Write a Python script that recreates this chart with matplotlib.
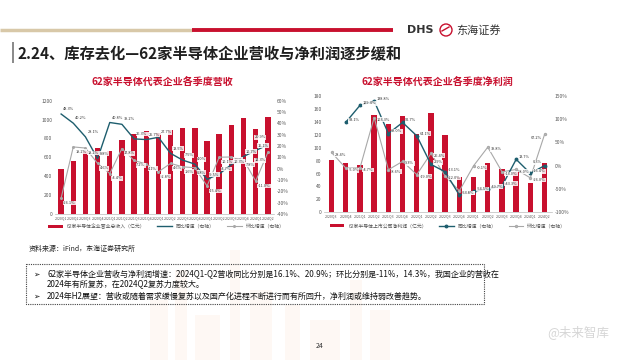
import matplotlib
matplotlib.use('Agg')
import matplotlib.pyplot as plt
import matplotlib.patches as mpatches
from matplotlib.ticker import FuncFormatter, MultipleLocator
import numpy as np

plt.rcParams['font.family'] = ['Noto Sans CJK SC', 'DejaVu Sans']
plt.rcParams['axes.unicode_minus'] = False

# ---- data: left chart (revenue) ----
rev_quarters = ['2020Q1', '2020Q2', '2020Q3', '2020Q4', '2021Q1', '2021Q2', '2021Q3', '2021Q4',
                '2022Q1', '2022Q2', '2022Q3', '2022Q4', '2023Q1', '2023Q2', '2023Q3', '2023Q4',
                '2024Q1', '2024Q2']
revenue = [475, 566, 669, 700, 669, 788, 845, 880, 855, 894, 908, 915, 774, 852, 940, 1013, 897, 1028]
rev_yoy = [48.3, 40.2, 28.1, 8.8, 40.8, 39.2, 26.3, 25.7, 27.7, 13.5, 7.5, 4.0, -9.5, -4.7, 3.5, 10.7, 16.1, 20.9]
rev_qoq = [-26.1, 19.2, 18.2, 4.6, -4.4, 17.8, 7.2, 4.1, -2.8, 4.6, 1.6, 0.8, -15.4, 10.1, 10.3, 7.8, -11.0, 14.3]

# ---- data: right chart (net profit) ----
np_quarters = ['2020Q3', '2020Q4', '2021Q1', '2021Q2', '2021Q3', '2021Q4', '2022Q1', '2022Q2',
               '2022Q3', '2022Q4', '2023Q1', '2023Q2', '2023Q3', '2023Q4', '2024Q1', '2024Q2']
profit = [80.7, 77.0, 73.5, 150.0, 137.0, 149.0, 121.0, 153.0, 119.0, 55.0, 55.0, 76.9, 67.0, 62.0, 46.0, 76.9]
profit_yoy = [np.nan, 93.1, 129.4, 138.8, 69.0, 92.7, 64.1, 2.9, -13.1, -63.1, -54.5, -49.7, -43.3, 13.7, -16.4, 0.3]
profit_qoq = [28.4, -5.0, -4.7, 103.3, -8.6, 9.3, -19.0, 26.4, -22.0, -53.8, -0.1, 39.8, -13.0, -8.0, -26.0, 67.2]

RED = '#C8102E'
TEAL = '#1E5E6E'
GRAY = '#A8A8A8'
TXT = '#555555'

fig = plt.figure(figsize=(6.4, 3.6), dpi=100)

# background / decoration layer in pixel coordinates
bg = fig.add_axes([0, 0, 1, 1], zorder=0)
bg.set_xlim(0, 640)
bg.set_ylim(360, 0)
bg.axis('off')

# faint city silhouette at the bottom
for bx, bw, bh in [(150, 18, 60), (175, 12, 90), (195, 25, 45), (230, 10, 110), (250, 22, 70),
                   (285, 15, 55), (310, 30, 40), (350, 12, 80), (370, 20, 50)]:
    bg.add_patch(mpatches.Rectangle((bx, 360 - bh), bw, bh, color='#FEF8F4', lw=0, zorder=0))

# top decorative line
bg.plot([0, 192], [30, 30], color='#D8C8A8', lw=2.5, solid_capstyle='butt')
bg.plot([192, 393], [30, 30], color=RED, lw=2.8, solid_capstyle='butt')

# logo
bg.text(407, 30, 'DHS', fontsize=8, fontweight='bold', color='#333333', va='center', ha='left',
        family=['DejaVu Sans'])
bg.add_patch(mpatches.Circle((446, 30), 6, fill=False, ec=RED, lw=1.0))
bg.plot([442, 449], [31, 27], color=RED, lw=1.0)
bg.text(456, 30, '东海证券', fontsize=8, color='#333333', va='center', ha='left')

# title
bg.add_patch(mpatches.Rectangle((12, 42), 2.2, 21, color='#8C8C8C', lw=0))
bg.text(18, 53, '2.24、库存去化—62家半导体企业营收与净利润逐步缓和', fontsize=11, fontweight='bold',
        color='#1F1F1F', va='center', ha='left')

# sub titles
bg.text(162, 82, '62家半导体代表企业各季度营收', fontsize=7.2, fontweight='bold', color=RED,
        ha='center', va='center')
bg.text(437, 82, '62家半导体代表企业各季度净利润', fontsize=7.2, fontweight='bold', color=RED,
        ha='center', va='center')

# source and note box
bg.text(29, 249, '资料来源：iFind，东海证券研究所', fontsize=5, color='#222222', va='center')
bg.add_patch(mpatches.Rectangle((26, 264), 458, 40, fill=False, ec='#444444', lw=0.8, ls=(0, (1, 1))))
bullet_lines = [
    (274, '62家半导体企业营收与净利润增速：2024Q1-Q2营收同比分别是16.1%、20.9%；环比分别是-11%，14.3%，我国企业的营收在'),
    (283.5, '2024年有所复苏，在2024Q2复苏力度较大。'),
    (296, '2024年H2展望：营收或随着需求缓慢复苏以及国产化进程不断进行而有所回升，净利润或维持弱改善趋势。'),
]
for y, s in bullet_lines:
    bg.text(47, y, s, fontsize=5.8, color='#111111', va='center')
for y in (274, 296):
    bg.text(33, y, '➢', fontsize=5.5, color='#111111', va='center', family=['DejaVu Sans'])

bg.text(320, 346, '24', fontsize=5, color='#333333', ha='center', va='center')
bg.text(578, 332, '@未来智库', fontsize=9, color='#D6D6D6', ha='center', va='center')


def style_axes(ax, ax2, nlabels):
    for s in ['top', 'left', 'right']:
        ax.spines[s].set_visible(False)
        ax2.spines[s].set_visible(False)
    ax2.spines['bottom'].set_visible(False)
    ax.spines['bottom'].set_color('#BBBBBB')
    ax.spines['bottom'].set_linewidth(0.5)
    ax.tick_params(axis='y', labelsize=3.5, colors=TXT, length=0, pad=2)
    ax2.tick_params(axis='y', labelsize=3.5, colors=TXT, length=0, pad=2)
    ax.tick_params(axis='x', labelsize=2.6, colors=TXT, length=0, pad=1.5)
    ax.set_xlim(-0.5, nlabels - 0.5)
    ax.patch.set_alpha(0)
    ax2.yaxis.set_major_formatter(FuncFormatter(lambda v, p: f'{v:.0f}%'))


def add_labels(ax2, xs, vals, dx, dy, color):
    n = len(vals)
    for i, (x, v) in enumerate(zip(xs, vals)):
        if np.isnan(v):
            continue
        last = i == n - 1
        ax2.annotate(f'{v:.1f}%', (x, v), xytext=(-dx if last else dx, dy * 1.6 if last else dy),
                     textcoords='offset points', fontsize=2.8, color=color,
                     ha='right' if last else 'left', va='center',
                     bbox=dict(boxstyle='square,pad=0.1', fc='white', ec='none', alpha=0.85),
                     zorder=6)


# ---- left chart ----
ax1 = fig.add_axes([0.086, 0.406, 0.342, 0.314], zorder=2)
x1 = np.arange(len(rev_quarters))
ax1.bar(x1, revenue, width=0.45, color=RED, label='62家半导体企业营业总收入（亿元）', zorder=2)
ax1.set_ylim(0, 1200)
ax1.yaxis.set_major_locator(MultipleLocator(200))
ax1.set_xticks(x1)
ax1.set_xticklabels(rev_quarters)
ax1b = ax1.twinx()
ax1b.plot(x1, rev_yoy, color=TEAL, lw=1.0, label='同比增速（右轴）', zorder=4)
ax1b.plot(x1, rev_qoq, color=GRAY, lw=0.8, marker='o', ms=1.2, label='环比增速（右轴）', zorder=3)
ax1b.set_ylim(-40, 60)
ax1b.yaxis.set_major_locator(MultipleLocator(10))
style_axes(ax1, ax1b, len(rev_quarters))
add_labels(ax1b, x1, rev_yoy, 1.5, 3.5, '#333333')
add_labels(ax1b, x1, rev_qoq, 1.5, -3.5, '#333333')
h1, l1 = ax1.get_legend_handles_labels()
h2, l2 = ax1b.get_legend_handles_labels()
fig.legend(h1 + h2, l1 + l2, loc='center', bbox_to_anchor=(0.26, 0.372), ncol=3, frameon=False,
           fontsize=3.5, handlelength=3, handleheight=0.5, columnspacing=2.5, labelcolor=TXT)

# ---- right chart ----
ax2 = fig.add_axes([0.507, 0.410, 0.355, 0.324], zorder=2)
x2 = np.arange(len(np_quarters))
ax2.bar(x2, profit, width=0.38, color=RED, label='62家半导体上市公司净利润（亿元）', zorder=2)
ax2.set_ylim(0, 180)
ax2.yaxis.set_major_locator(MultipleLocator(20))
ax2.set_xticks(x2)
ax2.set_xticklabels(np_quarters)
ax2b = ax2.twinx()
ax2b.plot(x2, profit_yoy, color=TEAL, lw=1.0, marker='o', ms=1.8, label='同比增速（右轴）', zorder=4)
ax2b.plot(x2, profit_qoq, color=GRAY, lw=0.8, marker='o', ms=1.4, mfc='white', label='环比增速（右轴）', zorder=3)
ax2b.set_ylim(-100, 150)
ax2b.yaxis.set_major_locator(MultipleLocator(50))
style_axes(ax2, ax2b, len(np_quarters))
add_labels(ax2b, x2, profit_yoy, 2, 1.5, '#333333')
add_labels(ax2b, x2, profit_qoq, 2, -1.5, '#333333')
h1, l1 = ax2.get_legend_handles_labels()
h2, l2 = ax2b.get_legend_handles_labels()
fig.legend(h1 + h2, l1 + l2, loc='center', bbox_to_anchor=(0.70, 0.372), ncol=3, frameon=False,
           fontsize=3.5, handlelength=3, handleheight=0.5, columnspacing=2.5, labelcolor=TXT)

fig.savefig('out.png', dpi=100)
